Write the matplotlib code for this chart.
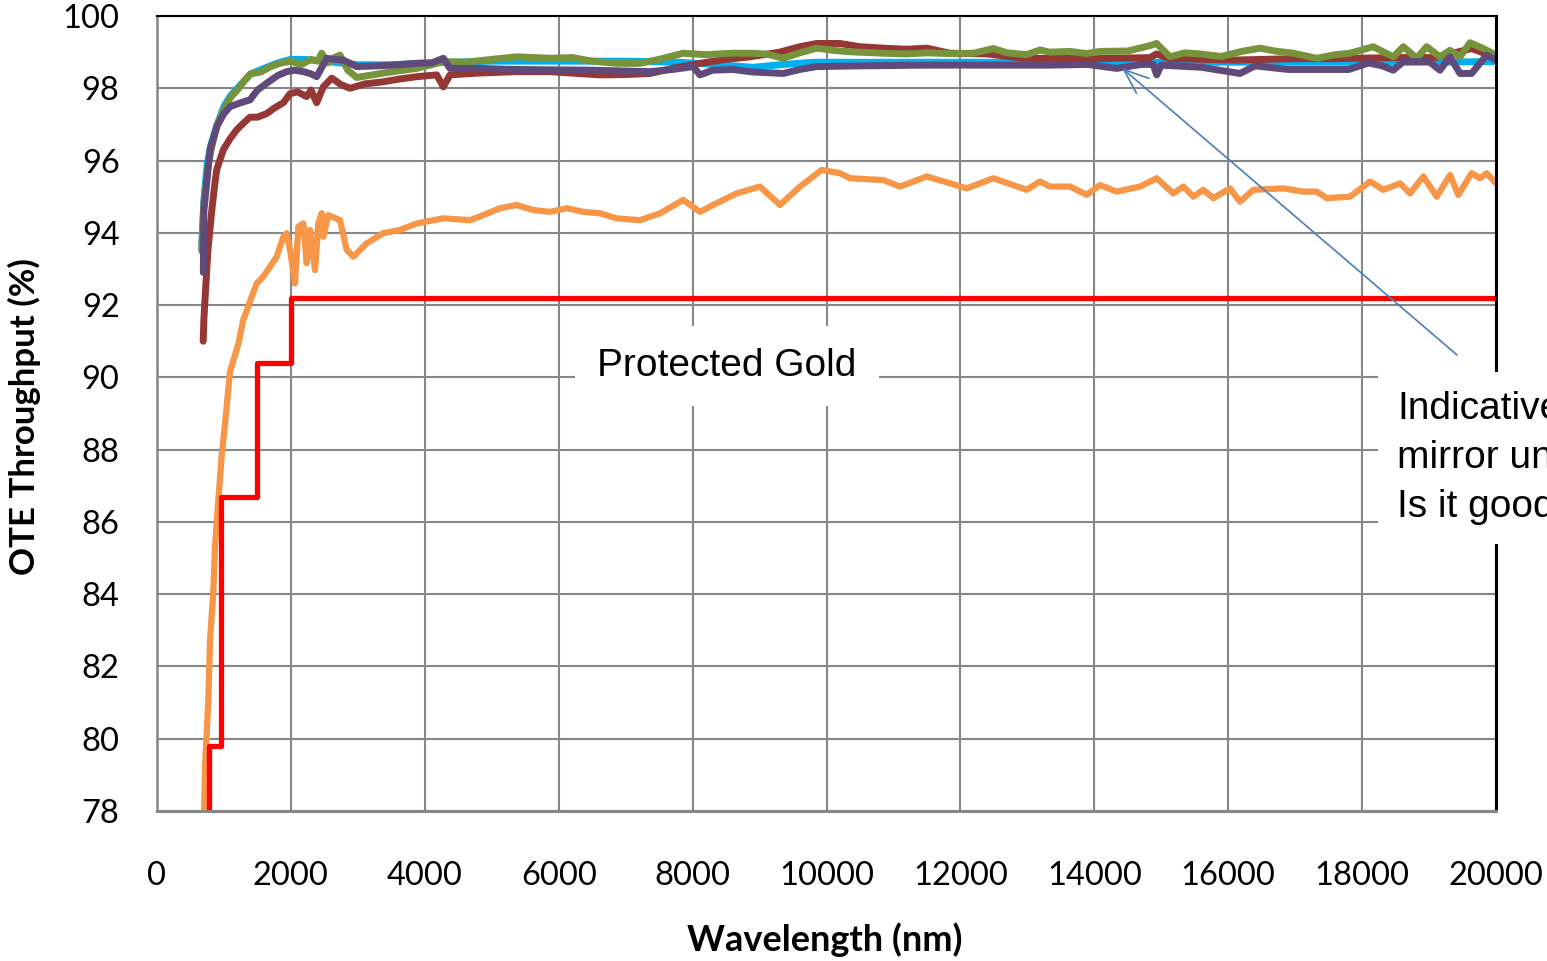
import matplotlib
matplotlib.use('Agg')
import matplotlib.pyplot as plt

# protected gold requirement (step)
gold_wl = [770, 770, 960, 960, 1500, 1500, 2000, 2000, 20000]
gold_val = [77.0, 79.8, 79.8, 86.7, 86.7, 90.4, 90.4, 92.2, 92.2]

cyan_wl = [667, 700, 750, 800, 900, 1000, 1100, 1250, 1400, 1600, 1800, 2000, 2200, 2500, 3000,
           3500, 4000, 5000, 6000, 7000, 7800, 8400, 8900, 9300, 9800, 11000, 13000, 15000, 17000,
           19000, 20000]
cyan_val = [93.6, 94.9, 95.9, 96.4, 97.0, 97.5, 97.8, 98.1, 98.4, 98.55, 98.7, 98.8, 98.8, 98.75,
            98.65, 98.65, 98.7, 98.75, 98.75, 98.75, 98.72, 98.65, 98.58, 98.65, 98.72, 98.72,
            98.72, 98.72, 98.72, 98.72, 98.74]

green_wl = [667, 700, 760, 820, 900, 1000, 1100, 1200, 1300, 1400, 1550, 1700, 1850, 2000, 2150,
            2300, 2400, 2460, 2550, 2650, 2733, 2850, 2983, 3150, 3380, 3600, 3879, 4100, 4277,
            4600, 5000, 5373, 5870, 6200, 6500, 6866, 7214, 7500, 7861, 8200, 8600, 8857, 9100,
            9355, 9600, 9853, 10100, 10351, 10849, 11200, 11500, 11845, 12200, 12490, 12700,
            12990, 13189, 13338, 13637, 13886, 14085, 14500, 14832, 14930, 15130, 15350, 15579,
            15900, 16200, 16475, 16700, 16973, 17322, 17600, 17820, 18167, 18466, 18616, 18815,
            18964, 19163, 19313, 19462, 19611, 19811, 20000]
green_val = [93.5, 94.8, 95.8, 96.4, 97.0, 97.4, 97.75, 97.95, 98.2, 98.4, 98.45, 98.6, 98.7,
             98.75, 98.65, 98.8, 98.75, 98.97, 98.7, 98.85, 98.92, 98.5, 98.3, 98.35, 98.42,
             98.48, 98.55, 98.65, 98.74, 98.72, 98.8, 98.87, 98.83, 98.85, 98.75, 98.69, 98.69,
             98.8, 98.97, 98.93, 98.97, 98.97, 98.95, 98.83, 98.98, 99.11, 99.05, 99.01, 98.97,
             98.95, 98.98, 98.96, 98.97, 99.1, 98.98, 98.93, 99.06, 99.0, 99.02, 98.96, 99.02,
             99.03, 99.18, 99.24, 98.87, 98.98, 98.95, 98.88, 99.02, 99.11, 99.03, 98.97, 98.83,
             98.93, 98.97, 99.15, 98.87, 99.15, 98.83, 99.15, 98.87, 99.05, 98.87, 99.26, 99.1,
             98.92]

red_wl = [690, 700, 717, 760, 817, 860, 892, 991, 1090, 1190, 1300, 1389, 1500, 1639, 1750, 1887,
          1987, 2100, 2236, 2300, 2385, 2484, 2609, 2750, 2883, 3100, 3380, 3600, 3879, 4178,
          4277, 4376, 4800, 5373, 5870, 6200, 6617, 7000, 7364, 7700, 8110, 8500, 8857, 9300,
          9600, 9853, 10202, 10500, 10849, 11200, 11497, 11845, 12400, 12940, 13338, 14000,
          14832, 14930, 15130, 16100, 16973, 17600, 18500, 19100, 19636, 19850, 20000]
red_val = [91.0, 91.6, 92.15, 93.5, 94.6, 95.3, 95.75, 96.3, 96.6, 96.85, 97.05, 97.2, 97.2,
           97.3, 97.45, 97.6, 97.85, 97.9, 97.77, 97.95, 97.6, 98.04, 98.28, 98.1, 98.0, 98.12,
           98.18, 98.25, 98.32, 98.37, 98.04, 98.37, 98.42, 98.46, 98.46, 98.42, 98.37, 98.38,
           98.41, 98.55, 98.69, 98.8, 98.87, 99.0, 99.15, 99.24, 99.24, 99.15, 99.11, 99.08,
           99.11, 98.97, 98.95, 98.83, 98.83, 98.82, 98.85, 98.95, 98.82, 98.78, 98.82, 98.82,
           98.85, 98.85, 99.1, 98.95, 98.88]

purple_wl = [692, 700, 792, 892, 1000, 1090, 1250, 1389, 1500, 1639, 1800, 1937, 2050, 2186,
             2300, 2385, 2535, 2650, 2783, 2983, 3300, 3600, 3879, 4100, 4277, 4376, 4800, 5373,
             5870, 6500, 7364, 7700, 8010, 8110, 8300, 8600, 8900, 9355, 9600, 9853, 10500,
             11500, 12500, 13338, 13900, 14334, 14700, 14880, 14932, 15000, 15600, 16176, 16400,
             16900, 17400, 17800, 18100, 18300, 18466, 18616, 19000, 19163, 19313, 19462, 19636,
             19860, 20000]
purple_val = [92.9, 94.6, 96.3, 96.94, 97.3, 97.49, 97.6, 97.68, 97.95, 98.14, 98.35, 98.46,
              98.5, 98.46, 98.4, 98.32, 98.83, 98.8, 98.78, 98.6, 98.62, 98.65, 98.69, 98.7,
              98.83, 98.55, 98.55, 98.52, 98.51, 98.5, 98.46, 98.52, 98.6, 98.37, 98.5, 98.52,
              98.45, 98.41, 98.52, 98.6, 98.62, 98.64, 98.64, 98.64, 98.66, 98.55, 98.66, 98.66,
              98.37, 98.64, 98.58, 98.41, 98.62, 98.52, 98.52, 98.52, 98.7, 98.62, 98.5, 98.74,
              98.74, 98.5, 98.87, 98.41, 98.41, 98.92, 98.78]

orange_wl = [700, 717, 767, 792, 841, 866, 916, 966, 1016, 1090, 1215, 1289, 1389, 1489, 1588,
             1688, 1788, 1887, 1937, 1987, 2061, 2112, 2186, 2236, 2285, 2360, 2410, 2460, 2484,
             2559, 2733, 2833, 2933, 3132, 3380, 3630, 3879, 4277, 4675, 4874, 5123, 5373, 5622,
             5870, 6119, 6368, 6617, 6866, 7214, 7513, 7861, 8110, 8360, 8658, 9006, 9305, 9604,
             9928, 10202, 10351, 10849, 11098, 11497, 11845, 12094, 12492, 12990, 13189, 13338,
             13637, 13886, 14085, 14334, 14683, 14932, 15180, 15330, 15479, 15628, 15778, 16027,
             16176, 16375, 16823, 17122, 17322, 17471, 17820, 18119, 18318, 18567, 18716, 18915,
             19115, 19313, 19438, 19636, 19761, 19860, 20000]
orange_val = [77.5, 79.2, 81.07, 82.73, 84.06, 85.28, 86.61, 87.82, 88.71, 90.15, 90.92, 91.59,
              92.1, 92.6, 92.79, 93.06, 93.34, 93.89, 93.99, 93.53, 92.6, 94.17, 94.26, 93.16,
              94.08, 92.97, 94.26, 94.54, 93.89, 94.49, 94.35, 93.53, 93.34, 93.71, 93.99, 94.08,
              94.26, 94.40, 94.35, 94.49, 94.68, 94.77, 94.63, 94.58, 94.68, 94.58, 94.54, 94.40,
              94.35, 94.54, 94.91, 94.58, 94.82, 95.09, 95.28, 94.77, 95.28, 95.74, 95.65, 95.51,
              95.46, 95.28, 95.56, 95.37, 95.23, 95.51, 95.19, 95.42, 95.28, 95.28, 95.05, 95.32,
              95.14, 95.28, 95.51, 95.09, 95.28, 95.0, 95.19, 94.96, 95.23, 94.86, 95.19, 95.23,
              95.14, 95.14, 94.96, 95.0, 95.42, 95.19, 95.37, 95.09, 95.56, 95.0, 95.6, 95.05,
              95.65, 95.51, 95.65, 95.37]

x_ticks = list(range(0, 20001, 2000))
y_ticks = list(range(78, 101, 2))

fig = plt.figure(figsize=(15.47, 9.61), dpi=100)
ax = fig.add_axes([157 / 1547, 1 - 811 / 961, (1496 - 157) / 1547, (811 - 16) / 961])

line_kw = dict(lw=5, solid_capstyle='round', solid_joinstyle='round')
ax.plot(cyan_wl, cyan_val, color='#00b0f0', **line_kw)
ax.plot(red_wl, red_val, color='#953735', **line_kw)
ax.plot(green_wl, green_val, color='#77933c', **line_kw)
ax.plot(purple_wl, purple_val, color='#604a7b', **line_kw)
ax.plot(orange_wl, orange_val, color='#f79646', lw=4.5, solid_capstyle='round',
        solid_joinstyle='round')
ax.plot(gold_wl, gold_val, color='#ff0000', lw=3.8)

ax.set_xlim(0, 20000)
ax.set_ylim(78, 100)
ax.set_xticks(x_ticks)
ax.set_yticks(y_ticks)
ax.grid(True, color='#878787', lw=1.5)
ax.set_axisbelow(True)
ax.tick_params(length=0, labelsize=23.5)
ax.tick_params(axis='x', pad=36)
ax.tick_params(axis='y', pad=27)
for lab in ax.get_xticklabels() + ax.get_yticklabels():
    lab.set_family(['Lato', 'DejaVu Sans'])

ax.spines['top'].set_color('black')
ax.spines['top'].set_linewidth(1.5)
ax.spines['right'].set_color('black')
ax.spines['right'].set_linewidth(2.2)
ax.spines['left'].set_color('#878787')
ax.spines['left'].set_linewidth(1.8)
ax.spines['bottom'].set_color('#878787')
ax.spines['bottom'].set_linewidth(2.2)

ax.set_xlabel('Wavelength (nm)', fontsize=26, fontweight='bold', family=['Lato', 'DejaVu Sans'])
ax.set_ylabel('OTE Throughput (%)', fontsize=25, fontweight='bold', family=['Lato', 'DejaVu Sans'])
ax.xaxis.set_label_coords(825 / 1547, 1 - 940 / 961, transform=fig.transFigure)
ax.yaxis.set_label_coords(24 / 1547, 1 - 417 / 961, transform=fig.transFigure)
ax.xaxis.label.set_va('center')
ax.yaxis.label.set_va('center')

narrow = ['Liberation Sans Narrow', 'Liberation Sans', 'DejaVu Sans']
ax.text(727 / 1547, 1 - 366 / 961, 'Protected Gold', transform=fig.transFigure,
        fontsize=28, family=narrow, ha='center', va='center', zorder=5,
        bbox=dict(fc='white', ec='none', pad=16))

ax.annotate('', xy=(14414, 98.56), xytext=(19417, 90.62), annotation_clip=False,
            arrowprops=dict(arrowstyle='->,head_length=0.9,head_width=0.35', color='#4a7ebb',
                            lw=1.2, mutation_scale=20, shrinkA=0, shrinkB=0), zorder=6)

ax.text(1397 / 1547, 1 - 458 / 961, 'Indicative\nmirror unit\nIs it good?', transform=fig.transFigure,
        fontsize=28, family=narrow, ha='left', va='center', linespacing=1.45, zorder=7,
        clip_on=False, bbox=dict(fc='white', ec='none', pad=14))

fig.savefig('out.png', dpi=100)
